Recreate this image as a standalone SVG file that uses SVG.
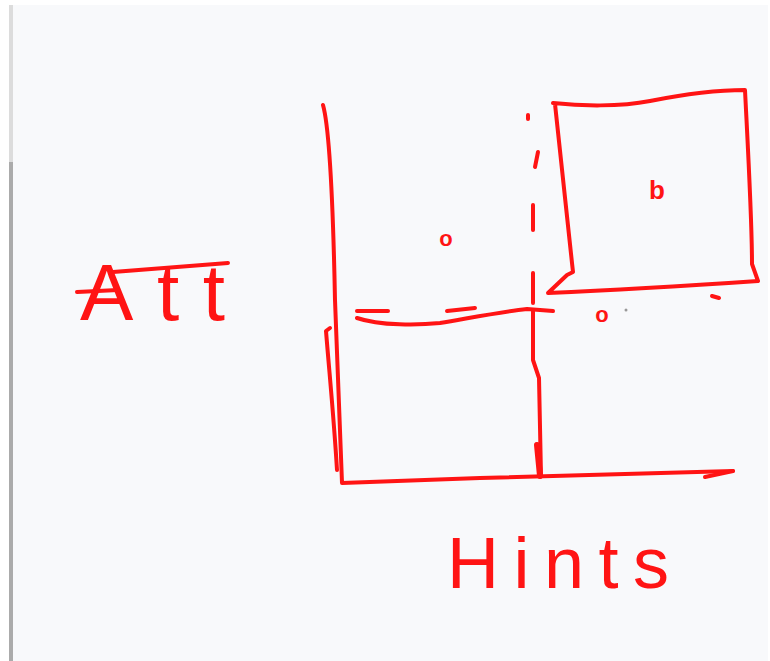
<svg xmlns="http://www.w3.org/2000/svg" width="770" height="661" viewBox="0 0 770 661">
<style>
.ink{fill:none;stroke:#ff1414;stroke-width:4;stroke-linecap:round;stroke-linejoin:round}
.hand{fill:#ff1414;font-family:"Liberation Sans","DejaVu Sans",sans-serif}
.small{font-weight:bold}
</style>
<rect x="0" y="0" width="770" height="661" fill="#ffffff"/>
<rect x="11" y="5" width="757" height="656" fill="#f8f9fb"/>
<rect x="9" y="5" width="4" height="157" fill="#dcdcdc"/>
<rect x="9" y="162" width="4" height="499" fill="#ababab"/>
<g id="axes">
<path class="ink" d="M323,105 C330,130 333,200 335,300 C338,380 340,440 342,483 L480,478 L733,471"/>
<path class="ink" d="M705,477 L733,471"/>
<path class="ink" d="M330,328 L326,331 C330,380 334,420 337,470"/>
</g>
<g id="lower-box">
<path class="ink" d="M357,311 L388,311"/>
<path class="ink" d="M447,311 L475,308"/>
<path class="ink" d="M357,318 C380,326 420,325 440,323 C470,318 500,312 527,309 L553,311"/>
<path class="ink" d="M533,310 L533,360 L539,378 L541,476"/>
<path class="ink" d="M537,445 L540,476" style="stroke-width:6"/>
</g>
<g id="dashed-line">
<path class="ink" d="M528,115 L528,119"/>
<path class="ink" d="M538,152 L535,167"/>
<path class="ink" d="M533,205 L533,230"/>
<path class="ink" d="M533,273 L533,303"/>
</g>
<g id="box-b">
<path class="ink" d="M553,103 C580,106 620,107 650,101 C690,93 720,90 745,90 C748,150 752,220 752,264 L758,281 C700,285 620,290 548,293 L567,275 L573,272 L572,263 L555,104"/>
<path class="ink" d="M712,296 L719,298"/>
<text class="hand small" x="657" y="199" font-size="26" text-anchor="middle">b</text>
</g>
<g id="label-o1">
<text class="hand small" x="446" y="246" font-size="22" text-anchor="middle">o</text>
</g>
<g id="label-o2">
<text class="hand small" x="602" y="322" font-size="22" text-anchor="middle">o</text>
<circle cx="626" cy="310" r="1.5" fill="#999"/>
</g>
<g id="label-att">
<text class="hand" x="80" y="320" font-size="80" textLength="145" lengthAdjust="spacing">Att</text>
<path class="ink" d="M77,292 L118,290"/>
<path class="ink" d="M113,272 L228,263"/>
</g>
<g id="label-hints">
<text class="hand" x="447" y="588" font-size="72" textLength="222" lengthAdjust="spacing">Hints</text>
</g>
</svg>
